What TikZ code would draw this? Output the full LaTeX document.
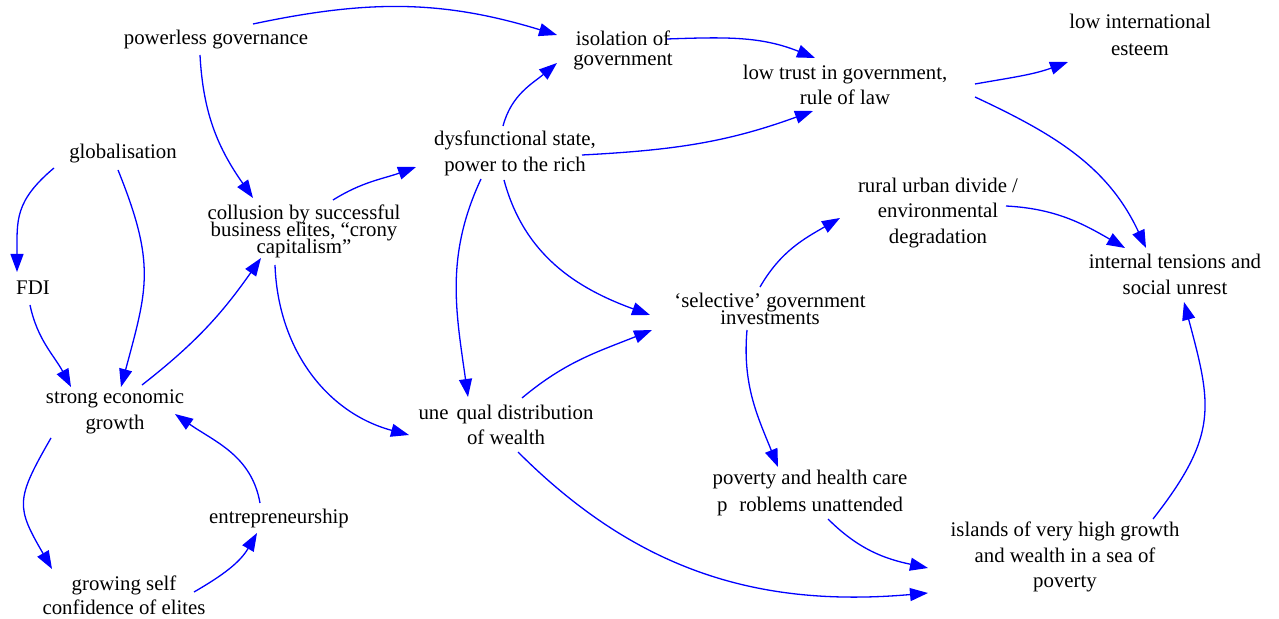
\documentclass[tikz,border=0pt]{standalone}
\usepackage{fontspec}
\setmainfont{Liberation Serif}
\usepackage{tikz}
\usetikzlibrary{arrows.meta}
\usetikzlibrary{calc}
\tikzset{>=latex}
\newcommand{\tightlines}{\lineskiplimit=-100pt\relax}

\begin{document}
\begin{tikzpicture}[
        x=0.5pt, y=0.5pt,
        factor/.style={align=center, inner sep=0pt,
            font=\fontsize{10.4}{12.75}\selectfont},
        tight/.style={font=\fontsize{10.4}{8.5}\selectfont\tightlines},
        link/.style={draw=blue, line width=0.65pt,
            -{Triangle[length=9pt, width=6.5pt]}}
    ]

    \useasboundingbox (0,0) rectangle (1279,-619);

    %=== Factors ===%
    \node[factor] (pg)     at (216,-40)   {powerless governance};
    \node[factor, font=\fontsize{10.4}{10}\selectfont] (iso) at (623,-50) {isolation of\\government};
    \node[factor] (trust)  at (845,-85)   {low trust in government,\\rule of law};
    \node[factor, font=\fontsize{10.4}{13.5}\selectfont] (esteem) at (1140,-35) {low international\\esteem};
    \node[factor] (glob)   at (123,-154)  {globalisation};
    \node[factor] (fdi)    at (33,-288)   {FDI};
    \node[factor, tight] (coll) at (304,-231) {collusion by successful\\business elites, “crony\\capitalism”};
    \node[factor, font=\fontsize{10.4}{13}\selectfont] (dys) at (515,-153) {dysfunctional state,\\power to the rich};
    \node[factor] (rural)  at (938,-213)  {rural urban divide /\\environmental\\degradation};
    \node[factor, font=\fontsize{10.4}{13}\selectfont] (tens) at (1175,-274) {internal tensions and\\social unrest};
    \node[factor, tight] (sel) at (770,-309) {‘selective’ government\\investments};
    \node[factor] (growth) at (115,-412)  {strong economic\\growth};
    \node[factor] (uneq)   at (506,-425)  {une\hspace{4pt}qual distribution\\of wealth};
    \node[factor] (entre)  at (279,-518)  {entrepreneurship};
    \node[factor, font=\fontsize{10.4}{12}\selectfont] (conf) at (124,-595) {growing self\\confidence of elites};
    \node[factor, font=\fontsize{10.4}{13.5}\selectfont] (pov) at (810,-493) {poverty and health care\\p\hspace{6pt}roblems unattended};
    \node[factor] (isl)    at (1065,-557) {islands of very high growth\\and wealth in a sea of\\poverty};

    %=== Links ===%
    \draw[link] ($(pg)+(37,16)$) to[out=12,in=163] ($(iso)+(-66,15)$);
    \draw[link] ($(pg)+(-16,-15)$) to[out=-87,in=125] ($(coll)+(-51,33)$);
    \draw[link,looseness=1.2] ($(glob)+(-69,-14)$) to[out=-140,in=90] ($(fdi)+(-16,16)$);
    \draw[link,looseness=1.2] ($(glob)+(-5,-16)$) to[out=-68,in=75] ($(growth)+(6,25)$);
    \draw[link] ($(fdi)+(-3,-17)$) to[out=-78,in=118] ($(growth)+(-44,25)$);
    \draw[link] ($(growth)+(27,27)$) to[out=38,in=-125] ($(coll)+(-43,-27)$);
    \draw[link] ($(coll)+(29,31)$) to[out=32,in=-160] ($(dys)+(-99,-14)$);
    \draw[link] ($(coll)+(-29,-34)$) to[out=-88,in=165] ($(uneq)+(-97,-10)$);
    \draw[link] ($(dys)+(-12,27)$) to[out=75,in=-140] ($(iso)+(-66,-13)$);
    \draw[link] ($(dys)+(67,-2)$) to[out=3,in=-160] ($(trust)+(-32,-26)$);
    \draw[link] ($(iso)+(44,11)$) to[out=2,in=158] ($(trust)+(-30,27)$);
    \draw[link] ($(trust)+(130,1)$) to[out=10,in=-160] ($(esteem)+(-72,-27)$);
    \draw[link] ($(trust)+(130,-12)$) to[out=-25,in=115] ($(tens)+(-29,26)$);
    \draw[link] ($(rural)+(68,7)$) to[out=-3,in=150] ($(tens)+(-50,26)$);
    \draw[link] ($(sel)+(-10,22)$) to[out=60,in=-150] ($(rural)+(-98,-5)$);
    \draw[link] ($(dys)+(-11,-27)$) to[out=-75,in=160] ($(sel)+(-120,-6)$);
    \draw[link] ($(uneq)+(16,27)$) to[out=40,in=-158] ($(sel)+(-118,-21)$);
    \draw[link] ($(dys)+(-34,-26)$) to[out=-115,in=98] ($(uneq)+(-38,28)$);
    \draw[link] ($(uneq)+(12,-27)$) to[out=-45,in=-175] ($(isl)+(-137,-36)$);
    \draw[link] ($(sel)+(-23,-21)$) to[out=-95,in=112] ($(pov)+(-32,26)$);
    \draw[link] ($(pov)+(18,-26)$) to[out=-45,in=168] ($(isl)+(-137,-11)$);
    \draw[link,looseness=1.25] ($(isl)+(88,38)$) to[out=52,in=-75] ($(tens)+(9,-28)$);
    \draw[link,looseness=1.4] ($(growth)+(-64,-26)$) to[out=-120,in=120] ($(conf)+(-72,26)$);
    \draw[link] ($(conf)+(70,3)$) to[out=30,in=-120] ($(entre)+(-22,-15)$);
    \draw[link] ($(entre)+(-19,15)$) to[out=100,in=-35] ($(growth)+(60,-2)$);

\end{tikzpicture}
\end{document}
